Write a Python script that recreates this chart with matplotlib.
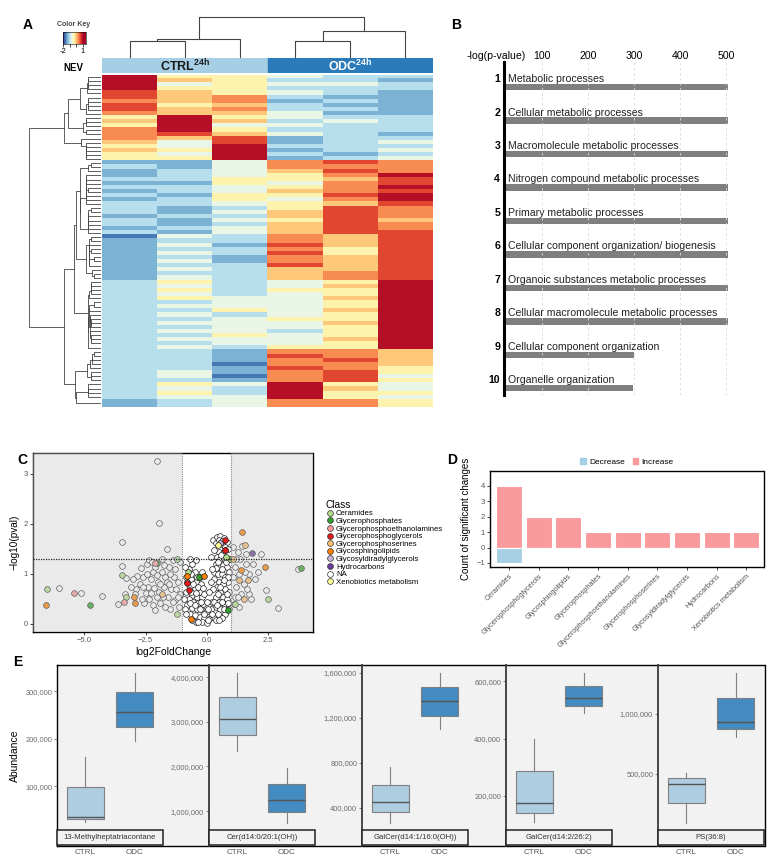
import numpy as np
import matplotlib
matplotlib.use('Agg')
import matplotlib.pyplot as plt
from matplotlib.patches import Rectangle, Patch
from matplotlib.lines import Line2D
from matplotlib.ticker import FuncFormatter

plt.rcParams['font.family'] = ['Liberation Sans', 'DejaVu Sans']
plt.rcParams['mathtext.fontset'] = 'custom'
plt.rcParams['mathtext.bf'] = 'Liberation Sans:bold'
plt.rcParams['mathtext.rm'] = 'Liberation Sans'

# ---------------- data ----------------
# A: heatmap, one string per row, digit 0 (blue) .. 9 (dark red), columns CTRL1-3, ODC1-3
heat_rows = [
    "955433", "965332", "945443", "955333", "865432",
    "867322", "767232", "856322", "867332", "766422",
    "595433", "696343", "594433", "795333", "786432",
    "768233", "648234", "549333", "659234", "549323", "559234",
    "224787", "324777", "234687",
    "234579", "335568", "225478", "334579", "234678", "325589", "235479", "334568",
    "323587", "324687", "233687", "324586", "323687", "234687", "324688",
    "143768", "233768", "242868", "233758", "243858", "232768", "242768", "233868",
    "243668", "233678", "243678",
    "353459", "343469", "353559", "343459", "354469",
    "334459", "344459", "335469", "343459", "334559", "344469",
    "334459", "344359", "335459", "344469", "334459", "343559",
    "332776", "332876", "332786", "331776", "332875",
    "342785", "341784", "332785",
    "354954", "343964", "353955", "344954",
    "234775", "234775",
]
groups = ['CTRL', 'ODC']

# B: GO terms
go_terms = ['Metabolic processes', 'Cellular metabolic processes',
            'Macromolecule metabolic processes',
            'Nitrogen compound metabolic processes', 'Primary metabolic processes',
            'Cellular component organization/ biogenesis',
            'Organoic substances metabolic processes',
            'Cellular macromolecule metabolic processes',
            'Cellular component organization', 'Organelle organization']
go_vals = [505, 505, 505, 505, 505, 505, 505, 505, 300, 298]
go_ticks = [100, 200, 300, 400, 500]

# C: volcano points per class (log2FoldChange, -log10(pval))
class_names = ['Ceramides', 'Glycerophosphates', 'Glycerophosphoethanolamines',
               'Glycerophosphoglycerols', 'Glycerophosphoserines', 'Glycosphingolipids',
               'Glycosyldiradylglycerols', 'Hydrocarbons', 'NA', 'Xenobiotics metabolism']
class_colors = ['#b2df8a', '#33a02c', '#fb9a99', '#e31a1c', '#fdbf6f', '#ff7f00',
                '#cab2d6', '#6a3d9a', '#ffffff', '#ffff99']
pts_na = [
    (-2.05, 3.27), (-1.95, 2.03), (-3.47, 1.65), (-1.65, 1.51), (-3.46, 1.17), (-3.32, 0.93),
    (-3.62, 0.41), (-2.87, 0.96), (-2.89, 0.70), (-2.46, 1.21), (-2.36, 1.29), (-1.40, 1.28),
    (-1.55, 1.15), (-1.85, 1.05), (-2.20, 1.05), (-2.60, 0.95), (-2.75, 0.80), (-3.10, 0.75),
    (-2.30, 0.90), (-2.00, 0.85), (-1.70, 0.95), (-1.30, 1.10), (-1.20, 0.85), (-1.45, 0.70),
    (-1.75, 0.75), (-2.15, 0.72), (-2.50, 0.62), (-2.35, 0.50), (-2.05, 0.55), (-1.60, 0.55),
    (-1.30, 0.48), (-1.90, 0.42), (-2.20, 0.38), (-2.55, 0.42), (-1.15, 0.35), (-1.50, 0.30),
    (-3.35, 0.60), (-4.27, 0.57), (-5.14, 0.63), (-6.03, 0.72), (-1.10, 0.60), (-2.70, 1.12),
    (-1.85, 1.30), (-1.10, 1.25), (-2.95, 0.60), (-2.10, 1.15), (-1.35, 0.95), (-1.65, 0.85),
    (-2.40, 0.75), (-1.95, 0.65), (-1.25, 0.70),
    (-2.25, 1.25), (-1.75, 1.18), (-1.50, 1.00), (-2.45, 1.00), (-2.05, 0.98), (-1.90, 0.80),
    (-2.60, 0.75), (-1.55, 0.80), (-2.30, 0.62), (-1.80, 0.55), (-2.65, 0.50), (-1.40, 0.45),
    (-2.10, 0.28), (-1.70, 0.35), (-3.00, 0.90), (-1.20, 0.55),
    (1.45, 1.56), (2.40, 0.68), (2.91, 0.33), (3.70, 1.10), (1.71, 1.00), (1.71, 0.61),
    (1.25, 1.45), (1.35, 1.30), (1.60, 1.20), (1.90, 1.20), (1.15, 1.15), (1.30, 1.00),
    (1.50, 0.80), (1.95, 0.90), (1.20, 0.75), (1.40, 0.60), (1.80, 0.50), (1.15, 0.55),
    (1.30, 0.35), (1.60, 1.40), (2.10, 1.05), (1.05, 0.95), (1.10, 0.40), (1.05, 1.55),
    (1.20, 1.30), (1.55, 1.05), (1.25, 0.55), (1.65, 0.70), (2.20, 1.40),
    (0.26, 1.69), (0.40, 1.74), (0.55, 1.76), (0.68, 1.72), (0.80, 1.64), (0.60, 1.60),
    (0.75, 1.55), (0.85, 1.50), (0.50, 1.45), (0.65, 1.42), (0.30, 1.48), (0.40, 1.35),
    (0.55, 1.30), (0.70, 1.32), (0.85, 1.30), (0.35, 1.20), (0.50, 1.15), (0.65, 1.18),
    (0.80, 1.15), (0.90, 1.05), (0.30, 1.05), (0.45, 1.00), (0.60, 1.00), (0.75, 0.95),
    (0.85, 0.85), (0.30, 0.90), (0.50, 0.85), (0.65, 0.80), (0.40, 0.75), (0.75, 0.70),
    (0.90, 0.65), (0.25, 0.70), (0.55, 0.65), (0.35, 0.55), (0.65, 0.55), (0.80, 0.50),
    (0.50, 0.45), (0.20, 0.45), (0.70, 0.40), (0.35, 0.35), (0.90, 0.30), (0.55, 0.30),
    (0.15, 0.30), (0.45, 0.20), (0.25, 0.15), (0.75, 0.20), (0.60, 0.12), (0.10, 0.10),
    (0.35, 1.62), (0.48, 1.68), (0.62, 1.66), (0.72, 1.48), (0.58, 1.38), (0.45, 1.25),
    (0.78, 1.25), (0.62, 1.10), (0.38, 1.12), (0.88, 0.95), (0.70, 0.88), (0.55, 0.75),
    (0.82, 0.60), (0.45, 0.60), (0.62, 0.45), (0.30, 0.45), (0.85, 0.42), (0.42, 0.38),
    (0.20, 0.20), (0.35, 0.08), (0.50, 0.08), (0.68, 0.30),
    (-0.45, 1.28), (-0.75, 1.10), (-0.50, 1.05), (-0.85, 0.95), (-0.65, 0.90), (-0.45, 0.85),
    (-0.25, 0.80), (-0.70, 0.75), (-0.50, 0.70), (-0.30, 0.65), (-0.85, 0.65), (-0.60, 0.58),
    (-0.40, 0.55), (-0.20, 0.55), (-0.75, 0.50), (-0.55, 0.45), (-0.35, 0.42), (-0.15, 0.40),
    (-0.80, 0.38), (-0.60, 0.32), (-0.40, 0.30), (-0.20, 0.28), (-0.05, 0.25), (-0.70, 0.20),
    (-0.50, 0.18), (-0.30, 0.15), (-0.10, 0.12), (-0.45, 0.05), (-0.20, 0.05), (0.00, 0.02),
    (0.05, 0.08), (-0.90, 0.30), (-0.95, 0.50), (-0.10, 0.60), (0.00, 0.45), (0.05, 0.30),
    (-0.30, 0.95), (-0.60, 1.20), (0.10, 0.65), (0.15, 0.85), (-0.90, 1.15), (-0.20, 1.05),
    (0.20, 1.10), (0.15, 1.35), (-0.70, 1.30),
    (-0.65, 1.00), (-0.40, 0.95), (-0.55, 0.80), (-0.35, 0.75), (-0.80, 0.85), (-0.65, 0.65),
    (-0.45, 0.62), (-0.25, 0.45), (-0.68, 0.42), (-0.48, 0.38), (-0.30, 0.30), (-0.12, 0.20),
    (-0.60, 0.08), (-0.35, 0.05), (-0.85, 0.20), (-0.15, 0.72),
]
pts_cer = [(-6.53, 0.70), (-3.46, 0.99), (-3.30, 0.55), (-1.24, 1.30), (-1.24, 0.20),
           (-0.79, 1.05), (2.48, 0.51), (0.94, 1.31), (0.78, 1.35), (1.14, 0.41)]
pts_gpa = [(-4.76, 0.38), (-2.05, 1.22), (3.84, 1.13), (-0.34, 0.95), (0.88, 0.29)]
pts_pe = [(-5.43, 0.63), (-3.40, 0.44), (-2.14, 1.23)]
pts_pg = [(0.73, 1.69), (0.72, 1.49), (-0.80, 0.83), (-0.75, 0.68)]
pts_ps = [(1.55, 1.59), (-1.82, 0.61), (1.32, 0.89), (1.69, 0.89), (1.52, 0.51), (1.05, 1.30)]
pts_gsl = [(1.43, 1.85), (2.38, 1.15), (-2.97, 0.55), (-2.94, 0.43), (-0.10, 0.96),
           (-0.65, 0.11), (-0.83, 0.97), (1.41, 1.08), (-6.55, 0.39)]
pts_gdg = [(0.53, 1.62)]
pts_hc = [(1.84, 1.43)]
pts_xen = [(0.45, 1.58)]
class_pts = [pts_cer, pts_gpa, pts_pe, pts_pg, pts_ps, pts_gsl, pts_gdg, pts_hc, pts_na, pts_xen]

# D: significant changes per class
d_cats = ['Ceramides', 'Glycerophosphoglycerols', 'Glycosphingolipids', 'Glycerophosphates',
          'Glycerophosphoethanolamines', 'Glycerophosphoserines', 'Glycosyldiradylglycerols',
          'Hydrocarbons', 'Xenobiotics metabolism']
d_inc = [4, 2, 2, 1, 1, 1, 1, 1, 1]
d_dec = [-1, 0, 0, 0, 0, 0, 0, 0, 0]

# E: box statistics (whislo, q1, med, q3, whishi)
e_names = ['13-Methylheptatriacontane', 'Cer(d14:0/20:1(OH))', 'GalCer(d14:1/16:0(OH))',
           'GalCer(d14:2/26:2)', 'PS(36:8)']
e_ctrl = [[24000, 31000, 35000, 98000, 161000],
          [2340000, 2700000, 3060000, 3550000, 4090000],
          [270000, 364000, 453000, 604000, 760000],
          [110000, 141000, 176000, 287000, 398000],
          [92000, 258000, 417000, 467000, 508000]]
e_odc = [[195000, 224000, 256000, 298000, 338000],
         [730000, 980000, 1250000, 1600000, 1960000],
         [1100000, 1218000, 1350000, 1476000, 1600000],
         [489000, 513000, 541000, 583000, 628000],
         [808000, 875000, 933000, 1133000, 1342000]]
e_ticks = [[100000, 200000, 300000],
           [1000000, 2000000, 3000000, 4000000],
           [400000, 800000, 1200000, 1600000],
           [200000, 400000, 600000],
           [500000, 1000000]]
e_ylim = [(-26000, 355000), (220000, 4270000), (62000, 1671000), (26000, 656000), (-100000, 1408000)]

# ---------------- layout helpers ----------------
W, H = 777, 865
fig = plt.figure(figsize=(W / 100, H / 100), dpi=100)


def box(l, t, r, b):
    return [l / W, 1 - b / H, (r - l) / W, (b - t) / H]


def ftext(x, y, s, **kw):
    fig.text(x / W, 1 - y / H, s, **kw)


def seq_linkage(mat):
    # agglomerative clustering that only joins neighbouring clusters (keeps the order)
    grp = [[i] for i in range(len(mat))]
    pos = [i + 0.5 for i in range(len(mat))]
    hts = [0.0] * len(mat)
    segs = []
    while len(grp) > 1:
        d = []
        for k in range(len(grp) - 1):
            a = mat[grp[k]]
            b = mat[grp[k + 1]]
            d.append(np.sqrt(((a[:, None, :] - b[None, :, :]) ** 2).sum(-1)).mean())
        k = int(np.argmin(d))
        h = max(d[k], hts[k], hts[k + 1])
        segs.append((pos[k], hts[k], pos[k + 1], hts[k + 1], h))
        grp[k] = grp[k] + grp[k + 1]
        del grp[k + 1]
        pos[k] = (pos[k] + pos[k + 1]) / 2
        del pos[k + 1]
        hts[k] = h
        del hts[k + 1]
    return segs, hts[0]


# ---------------- A ----------------
heat = np.array([[int(c) for c in r] for r in heat_rows])
vals = (heat - 6) / 3.0
n = len(heat_rows)

axH = fig.add_axes(box(102, 75, 433, 407))
axH.imshow(vals, cmap='RdYlBu_r', vmin=-2, vmax=1.1, aspect='auto',
           interpolation='nearest', extent=(0, 6, n, 0))
axH.axis('off')

axR = fig.add_axes(box(28, 75, 101, 407))
segs, root = seq_linkage(vals)
for p1, h1, p2, h2, h in segs:
    axR.plot([h1, h, h, h2], [p1, p1, p2, p2], color='#444444', lw=0.6)
axR.set_xlim(root * 1.02, 0)
axR.set_ylim(n, 0)
axR.axis('off')

axT = fig.add_axes(box(102, 15, 433, 58))
segs, root = seq_linkage(vals.T)
for p1, h1, p2, h2, h in segs:
    axT.plot([p1, p1, p2, p2], [h1, h, h, h2], color='#444444', lw=0.8)
axT.set_xlim(0, 6)
axT.set_ylim(0, root * 1.05)
axT.axis('off')

axG = fig.add_axes(box(102, 58, 433, 73))
axG.add_patch(Rectangle((0, 0), 3, 1, color='#a6cfe6'))
axG.add_patch(Rectangle((3, 0), 3, 1, color='#2b7bba'))
axG.text(1.5, 0.45, r'$\mathbf{' + groups[0] + '^{24h}}$', ha='center', va='center',
         fontsize=9, color='#1a1a1a')
axG.text(4.5, 0.45, r'$\mathbf{' + groups[1] + '^{24h}}$', ha='center', va='center',
         fontsize=9, color='white')
axG.set_xlim(0, 6)
axG.set_ylim(0, 1)
axG.axis('off')

axK = fig.add_axes(box(63, 32, 86, 44))
axK.imshow(np.linspace(-2, 1.5, 60)[None, :], cmap='RdYlBu_r', vmin=-2, vmax=1.1,
           aspect='auto', extent=(-2, 1.5, 0, 1))
axK.set_xticks([-2, -1, 0, 1])
axK.set_xticklabels(['-2', '', '', '1'], fontsize=5.5)
axK.set_yticks([])
axK.tick_params(axis='x', length=2, width=0.5, pad=1)
for s in axK.spines.values():
    s.set_linewidth(0.4)
ftext(74, 24, 'Color Key', fontsize=5, fontweight='bold', color='#444444', ha='center', va='center')
ftext(73, 68, 'NEV', fontsize=7, fontweight='bold', ha='center', va='center')
ftext(28, 25, 'A', fontsize=10, fontweight='bold', ha='center', va='center')

# ---------------- B ----------------
axB = fig.add_axes(box(504, 62, 757, 395))
ypos = np.arange(len(go_terms))
axB.barh(ypos, go_vals, height=0.19, color='#7f7f7f', zorder=2)
for v in go_ticks:
    axB.axvline(v, color='#dadada', lw=0.6, ls=(0, (3, 3)), zorder=3)
for i, t in enumerate(go_terms):
    axB.text(26, i - 0.15, t, fontsize=7.6, va='baseline', ha='left', color='#222222')
    axB.text(9, i - 0.15, str(i + 1), fontsize=7.6, fontweight='bold', va='baseline', ha='right')
axB.set_xlim(17.4, 567)
axB.set_ylim(9.2, -0.75)
axB.xaxis.tick_top()
axB.set_xticks(go_ticks)
axB.set_xticklabels([str(v) for v in go_ticks], fontsize=7.6)
axB.tick_params(axis='x', length=0, pad=1)
axB.set_yticks([])
for s in ['top', 'right', 'bottom']:
    axB.spines[s].set_visible(False)
axB.spines['left'].set_linewidth(2.2)
ftext(526, 56, '-log(p-value)', fontsize=7.6, ha='right', va='center')
ftext(456, 25, 'B', fontsize=10, fontweight='bold', ha='center', va='center')

# ---------------- C ----------------
axC = fig.add_axes(box(33, 453, 313, 632))
for pts, col in zip(class_pts, class_colors):
    if pts:
        xs = [p[0] for p in pts]
        ys = [p[1] for p in pts]
        z = 2 if col == '#ffffff' else 2.5
        axC.scatter(xs, ys, s=17, facecolor=col, edgecolor='#222222', linewidths=0.5, zorder=z)
axC.set_xlim(-7.1, 4.33)
axC.set_ylim(-0.16, 3.42)
axC.axvspan(-7.1, -1, color='#c8c8c8', alpha=0.38, lw=0, zorder=3)
axC.axvspan(1, 4.33, color='#c8c8c8', alpha=0.38, lw=0, zorder=3)
axC.axhline(1.3, color='#222222', ls=(0, (1, 1)), lw=0.9, zorder=4)
axC.axvline(-1, color='#888888', ls=(0, (1, 1)), lw=0.8, zorder=4)
axC.axvline(1, color='#888888', ls=(0, (1, 1)), lw=0.8, zorder=4)
axC.set_xticks([-5, -2.5, 0, 2.5])
axC.set_xticklabels(['\u22125.0', '\u22122.5', '0.0', '2.5'])
axC.set_yticks([0, 1, 2, 3])
axC.tick_params(labelsize=5.5, labelcolor='#555555', length=2, width=0.5, pad=1.5)
for s in ['top', 'right']:
    axC.spines[s].set_linestyle((0, (1, 1)))
    axC.spines[s].set_linewidth(1.0)
for s in ['left', 'bottom']:
    axC.spines[s].set_linewidth(1.0)
axC.set_xlabel('log2FoldChange', fontsize=7.5, labelpad=2)
axC.set_ylabel('\u2212log10(pval)', fontsize=7.2, labelpad=3)
handles = [Line2D([], [], marker='o', ls='', mfc=c, mec='#333333', ms=4.2, mew=0.5)
           for c in class_colors]
leg = fig.legend(handles, class_names, loc='upper left', bbox_to_anchor=(322 / W, 1 - 496 / H),
                 title='Class', fontsize=5.6, title_fontsize=7.3, frameon=False,
                 labelspacing=0.02, handletextpad=0.3, handlelength=1.0, borderpad=0,
                 alignment='left')
ftext(22, 460, 'C', fontsize=10, fontweight='bold', ha='center', va='center')

# ---------------- D ----------------
axD = fig.add_axes(box(490, 471, 764, 567))
xd = np.arange(len(d_cats))
axD.bar(xd, d_inc, width=0.88, color='#f99a9c', edgecolor='white', lw=0.8, label='Increase')
axD.bar(xd, d_dec, width=0.88, color='#a8d0e4', edgecolor='white', lw=0.8, label='Decrease')
axD.set_xlim(-0.64, 8.6)
axD.set_ylim(-1.26, 4.95)
axD.set_yticks([-1, 0, 1, 2, 3, 4])
axD.set_yticklabels(['\u22121', '0', '1', '2', '3', '4'])
axD.set_xticks(xd)
axD.set_xticklabels(d_cats, rotation=45, ha='right', rotation_mode='anchor')
axD.tick_params(axis='y', labelsize=5.5, labelcolor='#555555', length=2, width=0.5, pad=1.5)
axD.tick_params(axis='x', labelsize=5.3, labelcolor='#555555', length=2, width=0.5, pad=2)
for s in ['top', 'right', 'bottom']:
    axD.spines[s].set_linestyle((0, (1, 1)))
    axD.spines[s].set_linewidth(1.0)
axD.spines['left'].set_linewidth(1.0)
axD.set_ylabel('Count of significant changes', fontsize=7, labelpad=4)
hd = [Patch(color='#a8d0e4'), Patch(color='#f99a9c')]
axD.legend(hd, ['Decrease', 'Increase'], ncol=2, loc='lower center', bbox_to_anchor=(0.5, 1.0),
           frameon=False, fontsize=6, handlelength=0.7, handleheight=0.7,
           handletextpad=0.4, columnspacing=0.9, borderpad=0.1)
ftext(452, 460, 'D', fontsize=10, fontweight='bold', ha='center', va='center')

# ---------------- E ----------------
axBG = fig.add_axes(box(57, 665, 765, 846))
axBG.set_facecolor('#f2f2f2')
axBG.set_xticks([])
axBG.set_yticks([])
for s in axBG.spines.values():
    s.set_linestyle((0, (1, 1)))
    s.set_linewidth(1.0)

e_left = [57, 209, 362, 506, 658]
comma = FuncFormatter(lambda v, p: '{:,.0f}'.format(v))
for k in range(5):
    ax = fig.add_axes(box(e_left[k], 665, e_left[k] + 106, 846))
    ax.set_facecolor('none')
    stats = []
    for st in (e_ctrl[k], e_odc[k]):
        stats.append({'whislo': st[0], 'q1': st[1], 'med': st[2], 'q3': st[3],
                      'whishi': st[4], 'fliers': []})
    bp = ax.bxp(stats, positions=[1, 2], widths=0.75, patch_artist=True, showcaps=False,
                showfliers=False,
                boxprops=dict(edgecolor='#808080', lw=0.8),
                whiskerprops=dict(color='#808080', lw=0.8),
                medianprops=dict(color='#555555', lw=1.0))
    bp['boxes'][0].set_facecolor('#aecde1')
    bp['boxes'][1].set_facecolor('#438bc1')
    ax.set_xlim(0.42, 2.58)
    ax.set_ylim(*e_ylim[k])
    ax.set_yticks(e_ticks[k])
    ax.yaxis.set_major_formatter(comma)
    ax.set_xticks([1, 2])
    ax.set_xticklabels(groups)
    ax.tick_params(axis='y', labelsize=5.4, labelcolor='#6b6b6b', length=2, width=0.5,
                   color='#555555', pad=1.5)
    ax.tick_params(axis='x', labelsize=5.8, labelcolor='#555555', length=0, pad=2)
    for s in ['top', 'right', 'bottom']:
        ax.spines[s].set_visible(False)
    if k == 0:
        ax.spines['left'].set_visible(False)
    else:
        ax.spines['left'].set_linewidth(1.3)
        ax.spines['left'].set_color('#3a3a3a')
    ax.add_patch(Rectangle((0, 0.003), 1, 0.088, transform=ax.transAxes, facecolor='#f2f2f2',
                           edgecolor='#222222', lw=1.1, zorder=5, clip_on=False))
    ax.text(0.5, 0.047, e_names[k], transform=ax.transAxes, ha='center', va='center',
            fontsize=5.6, color='#333333', zorder=6)
    if k == 0:
        ax.set_ylabel('Abundance', fontsize=7.5, labelpad=4)
ftext(18, 662, 'E', fontsize=10, fontweight='bold', ha='center', va='center')

fig.savefig('out.png', dpi=100)
